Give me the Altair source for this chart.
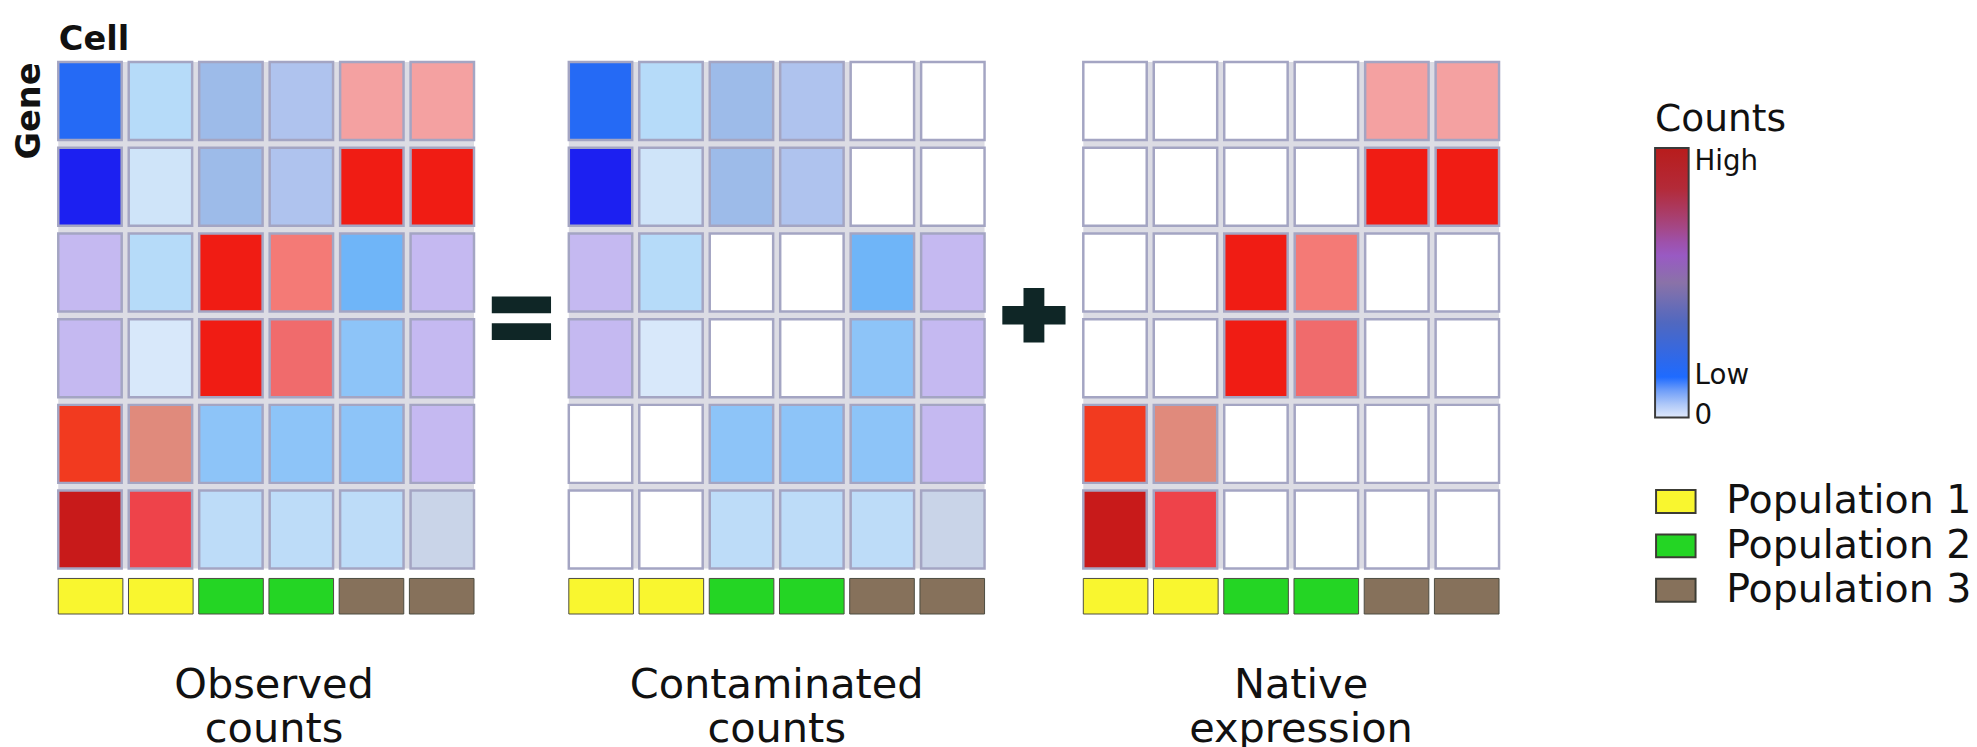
import altair as alt
import pandas as pd

# Grid labels
cells = ["C1", "C2", "C3", "C4", "C5", "C6"]
genes = ["G1", "G2", "G3", "G4", "G5", "G6"]

# Ambient (contamination) signal per gene x cell, as a shade level
contaminated_rows = [
    ["b_strong", "b_light", "b_mid", "b_midlight", "none", "none"],
    ["b_deep", "b_vlight", "b_mid", "b_midlight", "none", "none"],
    ["lav", "b_light", "none", "none", "b_sky", "lav"],
    ["lav", "b_vlight2", "none", "none", "b_sky2", "lav"],
    ["none", "none", "b_sky2", "b_sky2", "b_sky2", "lav"],
    ["none", "none", "b_pale", "b_pale", "b_pale", "b_gray"],
]

# Native expression per gene x cell, as a shade level
native_rows = [
    ["none", "none", "none", "none", "r_pink", "r_pink"],
    ["none", "none", "none", "none", "r_red", "r_red"],
    ["none", "none", "r_red", "r_salmon", "none", "none"],
    ["none", "none", "r_red", "r_salmon2", "none", "none"],
    ["r_orange", "r_dusty", "none", "none", "none", "none"],
    ["r_dark", "r_red2", "none", "none", "none", "none"],
]

# Observed = native where a gene is expressed, otherwise the contamination
observed_rows = [
    [n if n != "none" else c for c, n in zip(crow, nrow)]
    for crow, nrow in zip(contaminated_rows, native_rows)
]

cell_population = ["Population 1", "Population 1", "Population 2",
                   "Population 2", "Population 3", "Population 3"]

shade_keys = ["none", "b_strong", "b_deep", "b_light", "b_vlight", "b_vlight2",
              "b_mid", "b_midlight", "lav", "b_sky", "b_sky2", "b_pale", "b_gray",
              "r_pink", "r_red", "r_salmon", "r_salmon2", "r_orange", "r_dusty",
              "r_dark", "r_red2"]
shade_colors = ["#ffffff", "#256af5", "#1c20f1", "#b6dbf9", "#cfe4f9", "#d8e8fa",
                "#9dbbe9", "#afc3ee", "#c5b9f1", "#6fb5f8", "#8dc4f8", "#bddcf8", "#c9d4e8",
                "#f4a1a1", "#f01c14", "#f47a76", "#f06b6c", "#f23a1f", "#e08a7c",
                "#c81a1a", "#ee434a"]

pop_names = ["Population 1", "Population 2", "Population 3"]
pop_colors = ["#f9f62f", "#24d524", "#86715b"]

# Colour bar of the counts scale
count_levels = [0, 8, 15, 22, 35, 50, 61, 72, 85, 100]
count_colors = ["#e0e9fb", "#8fb2f6", "#1f6bff", "#2f68e8", "#5068c0",
                "#8a72a8", "#9a58c6", "#a6447c", "#b32a38", "#b81c1c"]
count_label_values = [0.4, 15.4, 100]

panel_titles = [["Observed", "counts"], ["Contaminated", "counts"], ["Native", "expression"]]
title_shift = [8, 0, 10]

FONT = "DejaVu Sans"
INK = "#111111"
PANEL_W = 421


def grid_frame(rows):
    return pd.DataFrame(
        [{"gene": g, "cell": c, "shade": rows[i][j]}
         for i, g in enumerate(genes) for j, c in enumerate(cells)]
    )


pop_frame = pd.DataFrame({"cell": cells, "population": cell_population})

pop_legend = alt.Legend(
    orient="none", legendX=1617, legendY=424, title=None, padding=0,
    symbolType="M-1,-0.58H1V0.58H-1Z", symbolSize=1600,
    symbolStrokeColor="#3c3c34", symbolStrokeWidth=2,
    labelFont=FONT, labelFontSize=40, labelColor=INK, labelOffset=30,
    labelLimit=400, rowPadding=4,
)


def heat(rows, first):
    if first:
        x_axis = alt.Axis(orient="top", title="Cell", labels=False, ticks=False,
                          domain=False, titleAnchor="start", titleFont=FONT,
                          titleFontSize=34, titleFontWeight="bold",
                          titlePadding=6, titleColor=INK)
        y_axis = alt.Axis(title="Gene", labels=False, ticks=False, domain=False,
                          titleAnchor="start", titleAlign="right", titleFont=FONT,
                          titleFontSize=34, titleFontWeight="bold",
                          titlePadding=12, titleColor=INK)
    else:
        x_axis = None
        y_axis = None
    return alt.Chart(grid_frame(rows)).mark_rect(
        stroke="#a4a5c3", strokeWidth=2.5
    ).encode(
        x=alt.X("cell:O", axis=x_axis,
                scale=alt.Scale(domain=cells, paddingInner=0.1, paddingOuter=0)),
        y=alt.Y("gene:O", axis=y_axis,
                scale=alt.Scale(domain=genes, paddingInner=0.09, paddingOuter=0)),
        fill=alt.Fill("shade:N", scale=alt.Scale(domain=shade_keys, range=shade_colors),
                      legend=None),
    ).properties(
        width=PANEL_W, height=513,
        view=alt.ViewBackground(fill="#dcdce4", stroke=None),
    )


def strip(title_lines, shift):
    return alt.Chart(pop_frame).mark_rect(stroke="#4b4b40", strokeWidth=1).encode(
        x=alt.X("cell:O", axis=None,
                scale=alt.Scale(domain=cells, paddingInner=0.08, paddingOuter=0)),
        color=alt.Color("population:N",
                        scale=alt.Scale(domain=pop_names, range=pop_colors),
                        legend=pop_legend),
    ).properties(
        width=PANEL_W, height=36,
        title=alt.TitleParams(text=title_lines, orient="bottom", anchor="middle",
                              font=FONT, fontSize=42, fontWeight="normal",
                              lineHeight=44, offset=52, dx=shift, color=INK),
    )


def panel(rows, i):
    return alt.vconcat(heat(rows, i == 0), strip(panel_titles[i], title_shift[i]),
                       spacing=7)


op_frame = pd.DataFrame({"op": ["sign"]})

# Operator glyphs sit at the centre of their own narrow views
equals = alt.Chart(op_frame).mark_point(
    shape="M-1,-0.73H1V-0.17H-1Z M-1,0.17H1V0.73H-1Z",
    size=3600, filled=True, color="#0f2626", opacity=1,
).encode(
    yOffset=alt.value(3),
).properties(width=60, height=513)

plus_sign = alt.Chart(op_frame).mark_point(
    shape="M-0.33,-0.86H0.33V-0.29H1V0.29H0.33V0.86H-0.33V0.29H-1V-0.29H-0.33Z",
    size=4096, filled=True, color="#0f2626", opacity=1,
)

# Carrier for the counts colour bar
count_frame = pd.DataFrame({"level": [count_levels[0], count_levels[-1]]})
count_bar = alt.Chart(count_frame).mark_point(size=0, filled=False, opacity=1).encode(
    stroke=alt.Stroke(
        "level:Q",
        scale=alt.Scale(domain=count_levels, range=count_colors, interpolate="rgb"),
        legend=alt.Legend(
            orient="none", legendX=1617, legendY=40, direction="vertical",
            title="Counts", titleFont=FONT, titleFontSize=38,
            titleFontWeight="normal", titleColor=INK, titlePadding=9, padding=0,
            gradientLength=273, gradientThickness=34,
            gradientStrokeColor="#3a3a3a", gradientStrokeWidth=2,
            values=count_label_values,
            labelExpr="datum.value >= 100 ? 'High' : datum.value > 5 ? 'Low' : '0'",
            labelFont=FONT, labelFontSize=28, labelColor=INK, labelOffset=6,
            labelOverlap=False,
        ),
    ),
)

plus_panel = alt.layer(plus_sign, count_bar).properties(width=60, height=513)

chart = alt.hconcat(
    panel(observed_rows, 0), equals,
    panel(contaminated_rows, 1), plus_panel,
    panel(native_rows, 2),
    spacing=16,
).properties(
    padding={"left": 12, "top": 18, "right": 5, "bottom": 0},
).configure(font=FONT).configure_view(stroke=None)

chart.save("out.html", embed_options={"renderer": "svg", "actions": False})
